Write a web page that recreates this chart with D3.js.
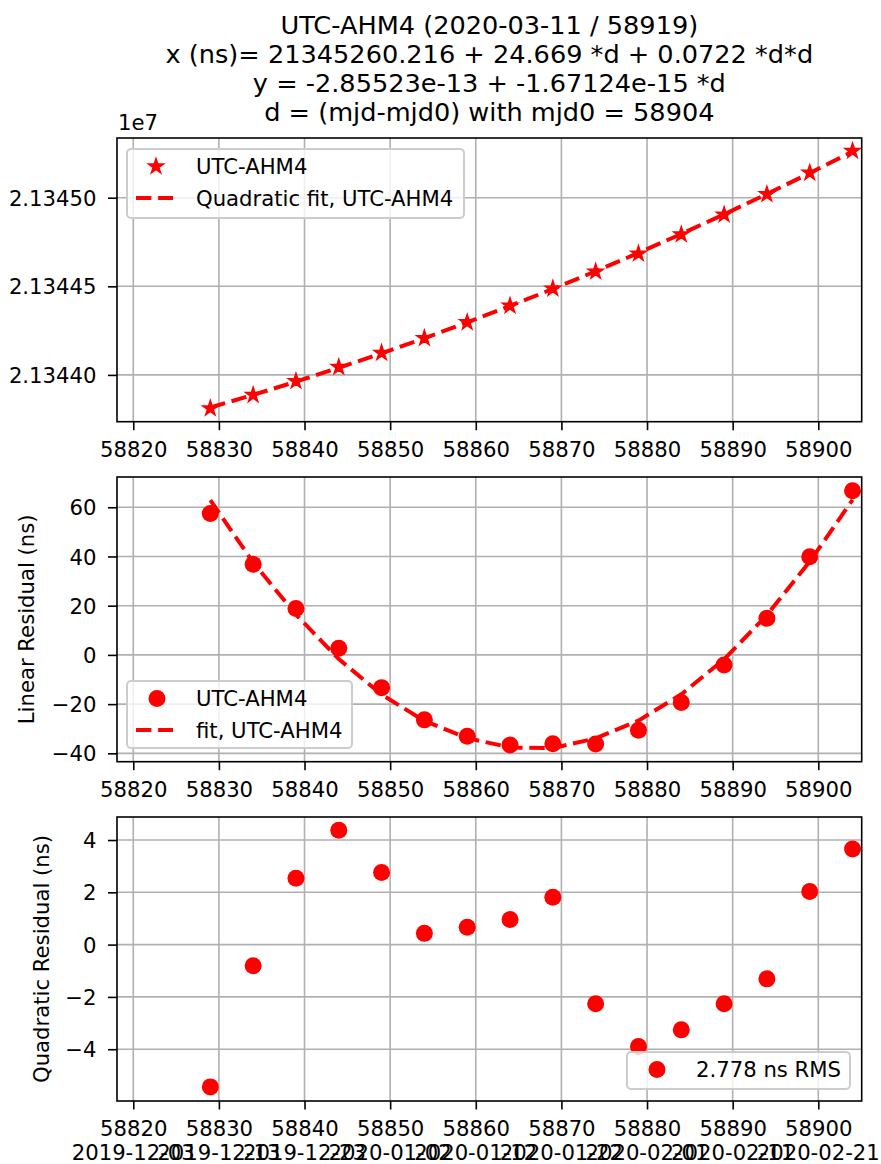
<!DOCTYPE html>
<html>
<head>
<meta charset="utf-8">
<script src="https://cdn.jsdelivr.net/npm/d3@7"></script>
<style>
  body { margin: 0; background: #fff; }
  svg text { font-family: "DejaVu Sans", sans-serif; fill: #000; }
</style>
</head>
<body>
<div id="app"></div>
<script>
// data
const mjd = [58829, 58834, 58839, 58844, 58849, 58854, 58859, 58864, 58869, 58874, 58879, 58884, 58889, 58894, 58899, 58904];
const phaseNs = [21343810.8, 21343886.4, 21343964.3, 21344044.4, 21344124.6, 21344207.7, 21344297.0, 21344390.0,
                 21344487.1, 21344582.8, 21344684.7, 21344792.4, 21344904.1, 21345019.5, 21345140.7, 21345263.9];
const quadFitNs = [21343816.2, 21343887.2, 21343961.8, 21344040.0, 21344121.8, 21344207.3, 21344296.3, 21344389.0,
                   21344485.3, 21344585.1, 21344688.6, 21344795.7, 21344906.4, 21345020.8, 21345138.7, 21345260.2];
const linResidual = [57.5, 36.8, 18.9, 2.7, -13.3, -26.4, -33.1, -36.6, -36.1, -36.2, -30.6, -19.3, -4.1, 14.9, 39.9, 66.7];
const linFit = [62.9, 37.6, 16.4, -1.7, -16.1, -26.8, -33.8, -37.6, -37.9, -33.9, -26.7, -16.0, -1.8, 16.2, 37.9, 63.0];
const quadResidual = [-5.44, -0.81, 2.54, 4.37, 2.76, 0.43, 0.66, 0.96, 1.81, -2.26, -3.90, -3.26, -2.26, -1.31, 2.03, 3.66];

const xTicks = [58820, 58830, 58840, 58850, 58860, 58870, 58880, 58890, 58900];
const dateLabels = ["2019-12-03", "2019-12-13", "2019-12-23", "2020-01-02", "2020-01-12", "2020-01-22", "2020-02-01", "2020-02-11", "2020-02-21"];
const topTicks = [21344000, 21344500, 21345000];
const midTicks = [-40, -20, 0, 20, 40, 60];
const botTicks = [-4, -2, 0, 2, 4];

const titleLines = ["UTC-AHM4 (2020-03-11 / 58919)",
                    "x (ns)= 21345260.216 + 24.669 *d + 0.0722 *d*d",
                    "y = -2.85523e-13 + -1.67124e-15 *d",
                    "d = (mjd-mjd0) with mjd0 = 58904"];

const width = 881, height = 1164;
const left = 117, right = 861.7;
const red = "#ff0000";
const fs = "21.2px";
const dash = "15.4,6.7";
const minus = s => String(s).replace("-", "\u2212");

const svg = d3.select("#app").append("svg").attr("width", width).attr("height", height);

svg.append("g").selectAll("text").data(titleLines).join("text")
  .attr("x", (left + right) / 2).attr("y", (d, i) => 33.5 + i * 29)
  .attr("text-anchor", "middle").style("font-size", "25.6px").text(d => d);

const x = d3.scaleLinear().domain([58818.1, 58905.07]).range([left, right]);

function panel(top, bottom, yDomain, yTicks, fmt, id) {
  const y = d3.scaleLinear().domain(yDomain).range([bottom, top]);
  const g = svg.append("g");
  g.append("clipPath").attr("id", id).append("rect")
    .attr("x", left).attr("y", top).attr("width", right - left).attr("height", bottom - top);
  // grid
  g.append("g").selectAll("line").data(xTicks).join("line")
    .attr("x1", d => x(d)).attr("x2", d => x(d)).attr("y1", top).attr("y2", bottom)
    .attr("stroke", "#b0b0b0").attr("stroke-width", 1.6);
  g.append("g").selectAll("line").data(yTicks).join("line")
    .attr("y1", d => y(d)).attr("y2", d => y(d)).attr("x1", left).attr("x2", right)
    .attr("stroke", "#b0b0b0").attr("stroke-width", 1.6);
  // axes
  const xa = g.append("g").attr("transform", `translate(0,${bottom})`)
    .call(d3.axisBottom(x).tickValues(xTicks).tickSize(8.5).tickFormat(d3.format("d")));
  const ya = g.append("g").attr("transform", `translate(${left},0)`)
    .call(d3.axisLeft(y).tickValues(yTicks).tickSize(9).tickPadding(11.5).tickFormat(fmt));
  [xa, ya].forEach(a => {
    a.select(".domain").remove();
    a.attr("font-family", null).attr("font-size", null);
    a.selectAll("line").attr("stroke", "#000").attr("stroke-width", 1.6);
    a.selectAll("text").style("font-size", fs);
  });
  xa.selectAll("text").attr("y", 35).attr("dy", null);
  ya.selectAll("text").attr("dy", "0.36em");
  g.append("rect").attr("x", left).attr("y", top).attr("width", right - left).attr("height", bottom - top)
    .attr("fill", "none").attr("stroke", "#000").attr("stroke-width", 1.6);
  const plot = g.append("g").attr("clip-path", `url(#${id})`);
  return { y, g, plot, xa };
}

function legend(g, bx, by, bw, bh, items) {
  g.append("rect").attr("x", bx).attr("y", by).attr("width", bw).attr("height", bh)
    .attr("rx", 4).attr("fill", "#fff").attr("fill-opacity", 0.8)
    .attr("stroke", "#cccccc").attr("stroke-width", 2);
  items.forEach((it, i) => {
    const cy = by + 17.5 + i * 31.5;
    if (it.kind === "star") {
      g.append("path").attr("d", d3.symbol(d3.symbolStar, 70)())
        .attr("transform", `translate(${bx + 29},${cy})`).attr("fill", red).attr("stroke", red).attr("stroke-width", 1.5);
    } else if (it.kind === "dot") {
      g.append("circle").attr("cx", bx + 30).attr("cy", cy).attr("r", 8.5).attr("fill", red);
    } else {
      g.append("line").attr("x1", bx + 9).attr("x2", bx + 46).attr("y1", cy).attr("y2", cy)
        .attr("stroke", red).attr("stroke-width", 4).attr("stroke-dasharray", dash);
    }
    g.append("text").attr("x", bx + 69).attr("y", cy).attr("dy", "0.36em")
      .style("font-size", fs).text(it.label);
  });
}

const pts = mjd.map((m, i) => i);

// top panel: phase
const p1 = panel(138, 421.7, [21343736, 21345337], topTicks, d => (d / 1e7).toFixed(5), "c1");
p1.plot.selectAll("path.star").data(pts).join("path").attr("class", "star")
  .attr("d", d3.symbol(d3.symbolStar, 70)())
  .attr("transform", i => `translate(${x(mjd[i])},${p1.y(phaseNs[i])})`)
  .attr("fill", red).attr("stroke", red).attr("stroke-width", 1.5);
p1.plot.append("path").datum(pts)
  .attr("d", d3.line().x(i => x(mjd[i])).y(i => p1.y(quadFitNs[i])))
  .attr("fill", "none").attr("stroke", red).attr("stroke-width", 4).attr("stroke-dasharray", dash);
svg.append("text").attr("x", left + 1).attr("y", 130).style("font-size", fs).text("1e7");
legend(p1.g, 127, 149, 337, 69, [{ kind: "star", label: "UTC-AHM4" }, { kind: "dash", label: "Quadratic fit, UTC-AHM4" }]);

// middle panel: linear residual
const p2 = panel(477, 761.7, [-43.4, 72.3], midTicks, minus, "c2");
p2.plot.selectAll("circle").data(pts).join("circle")
  .attr("cx", i => x(mjd[i])).attr("cy", i => p2.y(linResidual[i])).attr("r", 8.5).attr("fill", red);
p2.plot.append("path").datum(pts)
  .attr("d", d3.line().x(i => x(mjd[i])).y(i => p2.y(linFit[i])))
  .attr("fill", "none").attr("stroke", red).attr("stroke-width", 4).attr("stroke-dasharray", dash);
svg.append("text").attr("transform", `translate(34,${(477 + 761.7) / 2}) rotate(-90)`)
  .attr("text-anchor", "middle").style("font-size", fs).text("Linear Residual (ns)");
legend(p2.g, 127, 681, 225, 67, [{ kind: "dot", label: "UTC-AHM4" }, { kind: "dash", label: "fit, UTC-AHM4" }]);

// bottom panel: quadratic residual
const p3 = panel(817, 1101, [-5.98, 4.88], botTicks, minus, "c3");
p3.plot.selectAll("circle").data(pts).join("circle")
  .attr("cx", i => x(mjd[i])).attr("cy", i => p3.y(quadResidual[i])).attr("r", 8.5).attr("fill", red);
svg.append("text").attr("transform", `translate(49,${(817 + 1101) / 2}) rotate(-90)`)
  .attr("text-anchor", "middle").style("font-size", fs).text("Quadratic Residual (ns)");
legend(p3.g, 627, 1052, 223, 37, [{ kind: "dot", label: "2.778 ns RMS" }]);
svg.append("g").selectAll("text").data(xTicks).join("text")
  .attr("x", d => x(d)).attr("y", 1160).attr("text-anchor", "middle")
  .style("font-size", fs).text((d, i) => dateLabels[i]);
</script>
</body>
</html>
